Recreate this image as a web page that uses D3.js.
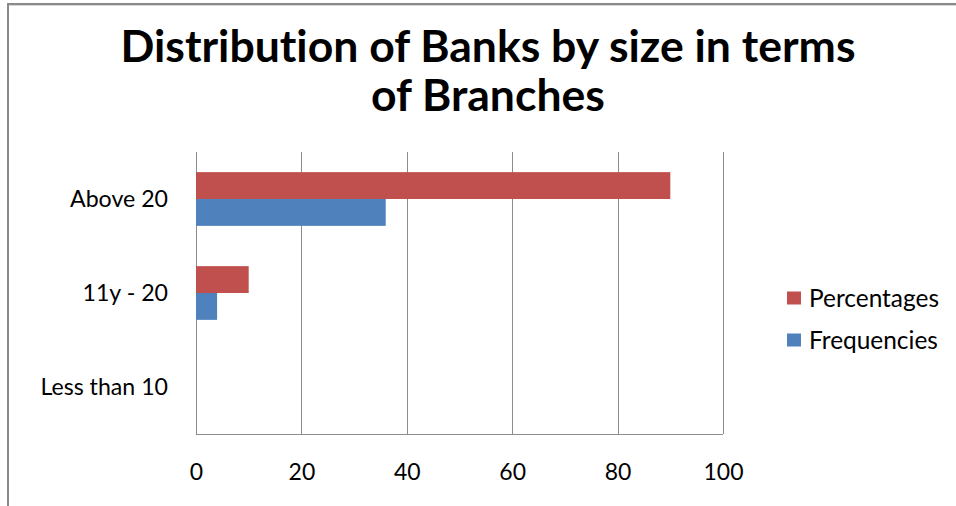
<!DOCTYPE html>
<html>
<head>
<meta charset="utf-8">
<script src="https://cdn.jsdelivr.net/npm/d3@7"></script>
<style>
  html, body { margin: 0; padding: 0; background: #fff; }
  svg { display: block; }
  text { font-family: Lato, "Open Sans", sans-serif; fill: #000;
         font-variant-ligatures: none; font-feature-settings: "liga" 0, "clig" 0; }
</style>
</head>
<body>
<svg id="chart" width="956" height="506"></svg>
<script>
// Branch-size classes, top to bottom
const categories = ["Above 20", "11y - 20", "Less than 10"];
const seriesNames = ["Percentages", "Frequencies"];
const percentages = [90, 10, 0];
const frequencies = [36, 4, 0];
const xTicks = [0, 20, 40, 60, 80, 100];
const titleLines = ["Distribution of Banks by size in terms", "of Branches"];

const colors = { Percentages: "#C0504D", Frequencies: "#4F81BD" };
const values = { Percentages: percentages, Frequencies: frequencies };

const svg = d3.select("#chart");

// size a text element so its rendered width equals the given width
function fitWidth(sel, width) {
  sel.style("font-size", "100px");
  const w = sel.node().getComputedTextLength();
  sel.style("font-size", (100 * width / w).toFixed(2) + "px");
  return sel;
}

// chart frame (left and top edges)
svg.append("path")
  .attr("d", "M8,506 V4 H956")
  .attr("fill", "none")
  .attr("stroke", "#8a8a8a")
  .attr("stroke-width", 2);
svg.append("line")
  .attr("x1", 9).attr("x2", 956).attr("y1", 5.5).attr("y2", 5.5)
  .attr("stroke", "#d8d8d8").attr("stroke-width", 1);

// title
const t1 = svg.append("text").attr("x", 488).attr("y", 62)
  .attr("text-anchor", "middle").style("font-weight", "bold").text(titleLines[0]);
fitWidth(t1, 735);
const t2 = svg.append("text").attr("x", 488).attr("y", 111)
  .attr("text-anchor", "middle").style("font-weight", "bold").text(titleLines[1]);
t2.style("font-size", t1.style("font-size"));

// scales
const x = d3.scaleLinear().domain([0, 100]).range([196, 723]);
const y0 = d3.scaleBand().domain(categories).range([152, 434]).padding(0);
const y1 = d3.scaleBand().domain(seriesNames).range([0, y0.bandwidth()])
  .paddingInner(0).paddingOuter(0.75);

// vertical gridlines
svg.append("g")
  .selectAll("line")
  .data(xTicks)
  .join("line")
  .attr("x1", d => Math.round(x(d)) + 0.5)
  .attr("x2", d => Math.round(x(d)) + 0.5)
  .attr("y1", 152).attr("y2", 434)
  .attr("stroke", "#8c8c8c").attr("stroke-width", 1);

// bars
const rows = categories.map((c, i) => ({ cat: c, i }));
const groups = svg.append("g").selectAll("g")
  .data(rows)
  .join("g")
  .attr("transform", d => `translate(0,${y0(d.cat)})`);
groups.selectAll("rect")
  .data(d => seriesNames.map(s => ({ s, v: values[s][d.i] })))
  .join("rect")
  .attr("x", x(0))
  .attr("y", d => y1(d.s))
  .attr("width", d => x(d.v) - x(0))
  .attr("height", y1.bandwidth())
  .attr("fill", d => colors[d.s]);

// bottom axis line
svg.append("line")
  .attr("x1", x(0)).attr("x2", x(100))
  .attr("y1", 434.5).attr("y2", 434.5)
  .attr("stroke", "#8c8c8c").attr("stroke-width", 1);

// x tick labels
const xAxis = d3.axisBottom(x).tickValues(xTicks).tickSize(0).tickPadding(0)
  .tickFormat(d3.format("d"));
const xg = svg.append("g").attr("transform", "translate(0,480)").call(xAxis);
xg.select(".domain").remove();
xg.selectAll("text").attr("dy", 0).attr("y", 0)
  .style("font-family", "Lato, 'Open Sans', sans-serif").style("font-size", null);
const tickSize = (() => {
  const last = xg.selectAll("text").filter(d => d === 100);
  fitWidth(last, 40);
  return last.style("font-size");
})();
xg.selectAll("text").style("font-size", tickSize).attr("fill", "#000");

// y category labels
const yAxis = d3.axisLeft(y0).tickSize(0).tickPadding(0);
const yg = svg.append("g").attr("transform", "translate(168,0)").call(yAxis);
yg.select(".domain").remove();
yg.selectAll("text").attr("x", 0).attr("dy", "0.35em")
  .style("font-family", "Lato, 'Open Sans', sans-serif").attr("fill", "#000");
const lab = yg.selectAll("text").filter(d => d === "Above 20");
fitWidth(lab, 98);
yg.selectAll("text").style("font-size", lab.style("font-size"));

// legend
const legend = svg.append("g").selectAll("g")
  .data(seriesNames)
  .join("g")
  .attr("transform", (d, i) => `translate(787,${298 + i * 42})`);
legend.append("rect")
  .attr("x", 0).attr("y", -6.5).attr("width", 14).attr("height", 13)
  .attr("fill", d => colors[d]);
const legTexts = legend.append("text")
  .attr("x", 22).attr("y", 0).attr("dy", "0.35em")
  .text(d => d);
fitWidth(legTexts.filter(d => d === "Percentages"), 130);
legTexts.style("font-size", legTexts.filter(d => d === "Percentages").style("font-size"));
</script>
</body>
</html>
